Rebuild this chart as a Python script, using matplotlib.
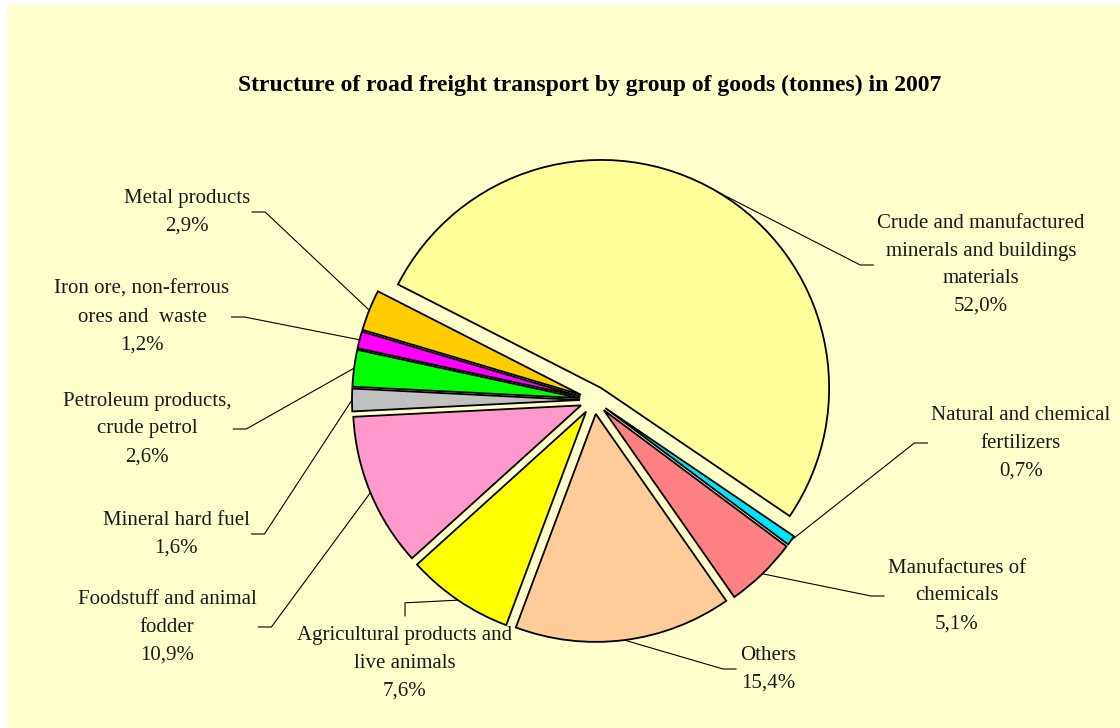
import matplotlib.pyplot as plt
import numpy as np
from matplotlib.patches import Rectangle

# Data (share of tonnes, %)
groups = [
    "Crude and manufactured\nminerals and buildings\nmaterials",
    "Natural and chemical\nfertilizers",
    "Manufactures of\nchemicals",
    "Others",
    "Agricultural products and\nlive animals",
    "Foodstuff and animal\nfodder",
    "Mineral hard fuel",
    "Petroleum products,\ncrude petrol",
    "Iron ore, non-ferrous\nores and  waste",
    "Metal products",
]
shares = [52.0, 0.7, 5.1, 15.4, 7.6, 10.9, 1.6, 2.6, 1.2, 2.9]
colors = ["#FFFF99", "#00E5FF", "#FF8080", "#FFCC99", "#FFFF00",
          "#FF99CC", "#C0C0C0", "#00FF00", "#FF00FF", "#FFCC00"]

# Layout (pixels, measured from the top-left of the 1120x728 picture)
W, H = 1120, 728
pie_center = (594, 400)
pie_radius = 228
explode_px = 14
label_pos = [(981, 265), (1021, 443), (957, 596), (768, 669), (405, 663),
             (167, 627), (176, 534), (147, 429), (142, 317), (187, 212)]
label_side = ["left", "left", "left", "left", "top",
              "right", "right", "right", "right", "right"]

fig = plt.figure(figsize=(W / 100, H / 100), dpi=100)
fig.patch.set_facecolor("white")
ax = fig.add_axes([0, 0, 1, 1])

# pale yellow chart area
ax.add_patch(Rectangle((7, 0), W - 7, H - 5, facecolor="#FFFFCC",
                       edgecolor="none", zorder=0))

wedges, _ = ax.pie(
    shares,
    colors=colors,
    startangle=153,
    counterclock=False,
    explode=[explode_px] * len(shares),
    radius=pie_radius,
    center=(pie_center[0], H - pie_center[1]),
    wedgeprops=dict(edgecolor="black", linewidth=1.3),
)
for w in wedges:
    w.set_zorder(2)

ax.set_xlim(0, W)
ax.set_ylim(0, H)
ax.set_aspect("equal")
ax.axis("off")

ax.text(590, H - 85,
        "Structure of road freight transport by group of goods (tonnes) in 2007",
        ha="center", va="center", fontsize=17, fontweight="bold",
        family="Liberation Serif", color="black")

fig.canvas.draw()
renderer = fig.canvas.get_renderer()
inv = ax.transData.inverted()

for name, val, (lx, ly), side, w in zip(groups, shares, label_pos, label_side, wedges):
    txt = name + "\n" + f"{val:.1f}".replace(".", ",") + "%"
    t = ax.text(lx, H - ly, txt, ha="center", va="center", multialignment="center",
                fontsize=15, family="Liberation Serif", color="#1a1a1a",
                linespacing=1.62, zorder=3)
    bb = t.get_window_extent(renderer=renderer).transformed(inv)

    # point on the wedge arc at its middle angle
    mid = np.deg2rad((w.theta1 + w.theta2) / 2)
    px = w.center[0] + w.r * np.cos(mid)
    py = w.center[1] + w.r * np.sin(mid)

    if side == "left":
        x0 = bb.x0 - 4
        seg = [(x0, H - ly), (x0 - 13, H - ly), (px, py)]
    elif side == "right":
        x0 = bb.x1 + 2
        seg = [(x0, H - ly), (x0 + 13, H - ly), (px, py)]
    else:
        y0 = bb.y1 + 10
        seg = [(lx, y0), (lx, y0 + 13), (px, py)]
    xs, ys = zip(*seg)
    ax.plot(xs, ys, color="black", linewidth=0.8, zorder=1)

fig.savefig("out.png", dpi=100, facecolor=fig.get_facecolor())
